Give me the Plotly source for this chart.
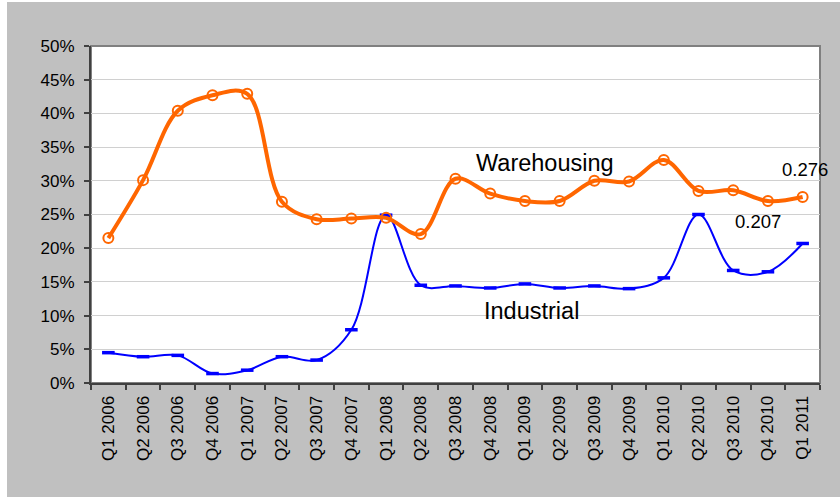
import plotly.graph_objects as go

quarters = ["Q1 2006", "Q2 2006", "Q3 2006", "Q4 2006", "Q1 2007", "Q2 2007", "Q3 2007",
            "Q4 2007", "Q1 2008", "Q2 2008", "Q3 2008", "Q4 2008", "Q1 2009", "Q2 2009",
            "Q3 2009", "Q4 2009", "Q1 2010", "Q2 2010", "Q3 2010", "Q4 2010", "Q1 2011"]
warehousing = [0.215, 0.301, 0.404, 0.427, 0.429, 0.269, 0.243, 0.244, 0.245, 0.221,
               0.303, 0.281, 0.270, 0.270, 0.300, 0.299, 0.331, 0.285, 0.286, 0.270, 0.276]
industrial = [0.045, 0.039, 0.041, 0.014, 0.019, 0.039, 0.034, 0.079, 0.249, 0.145,
              0.144, 0.141, 0.147, 0.141, 0.144, 0.140, 0.156, 0.250, 0.167, 0.165, 0.207]

series_labels = ["Warehousing", "Industrial"]
value_labels = ["0.276", "0.207"]

ORANGE = "#FF6600"
BLUE = "#0000FF"
FONT = "Liberation Sans, Arial, sans-serif"

fig = go.Figure()
fig.add_trace(go.Scatter(
    x=quarters, y=industrial, mode="lines+markers",
    line=dict(color=BLUE, width=2, shape="spline"),
    marker=dict(symbol="line-ew", size=9, line=dict(color=BLUE, width=3.5)),
    showlegend=False, hoverinfo="x+y"))
fig.add_trace(go.Scatter(
    x=quarters, y=warehousing, mode="lines+markers",
    line=dict(color=ORANGE, width=4, shape="spline"),
    marker=dict(symbol="circle-open", size=10, color=ORANGE, line=dict(color=ORANGE, width=2)),
    showlegend=False, hoverinfo="x+y"))

ann_font = dict(family=FONT, size=23.5, color="#000000")
num_font = dict(family=FONT, size=18.5, color="#000000")
fig.add_annotation(x=12.58, y=0.326, text=series_labels[0], showarrow=False, font=ann_font,
                   xanchor="center", yanchor="middle")
fig.add_annotation(x=12.2, y=0.107, text=series_labels[1], showarrow=False, font=ann_font,
                   xanchor="center", yanchor="middle")
fig.add_annotation(x=20.08, y=0.3175, text=value_labels[0], showarrow=False, font=num_font,
                   xanchor="center", yanchor="middle")
fig.add_annotation(x=18.72, y=0.239, text=value_labels[1], showarrow=False, font=num_font,
                   xanchor="center", yanchor="middle")

L, R, T, B = 91, 20, 46, 114
W, H = 840, 497
pw, ph = W - L - R, H - T - B

shapes = [
    # white strips on left and top of figure
    dict(type="rect", xref="paper", yref="paper", layer="below",
         x0=-L / pw, x1=(7 - L) / pw, y0=-B / ph, y1=(H - B) / ph,
         fillcolor="white", line=dict(width=0)),
    dict(type="rect", xref="paper", yref="paper", layer="below",
         x0=-L / pw, x1=(W - L) / pw, y0=(H - B - 2) / ph, y1=(H - B) / ph,
         fillcolor="white", line=dict(width=0)),
    # plot border top/right
    dict(type="rect", xref="paper", yref="paper", layer="below",
         x0=0, x1=1, y0=0, y1=1, fillcolor="rgba(0,0,0,0)",
         line=dict(color="#808080", width=2)),
]

fig.update_layout(
    width=W, height=H,
    margin=dict(l=L, r=R, t=T, b=B),
    paper_bgcolor="#C0C0C0", plot_bgcolor="#FFFFFF",
    font=dict(family=FONT, size=17, color="#000000"),
    shapes=shapes,
    xaxis=dict(type="category", range=[-0.5, 20.5], tickangle=-90, tickson="boundaries",
               ticks="outside", ticklen=5, tickcolor="#404040", tickwidth=1.5,
               showline=True, linecolor="#404040", linewidth=2, showgrid=False,
               tickfont=dict(family=FONT, size=17), ticklabelstandoff=4),
    yaxis=dict(range=[0, 0.5], dtick=0.05, tickformat=".0%", ticks="outside", ticklen=5,
               tickcolor="#404040", tickwidth=1.5, showline=True, linecolor="#404040",
               linewidth=2, showgrid=True, gridcolor="#D0D0D0", gridwidth=1, zeroline=False,
               tickfont=dict(family=FONT, size=17), ticklabelstandoff=6),
)

fig.write_html("out.html", config={"displayModeBar": False},
               post_script="document.body.style.margin='0';document.body.style.overflow='hidden';")
